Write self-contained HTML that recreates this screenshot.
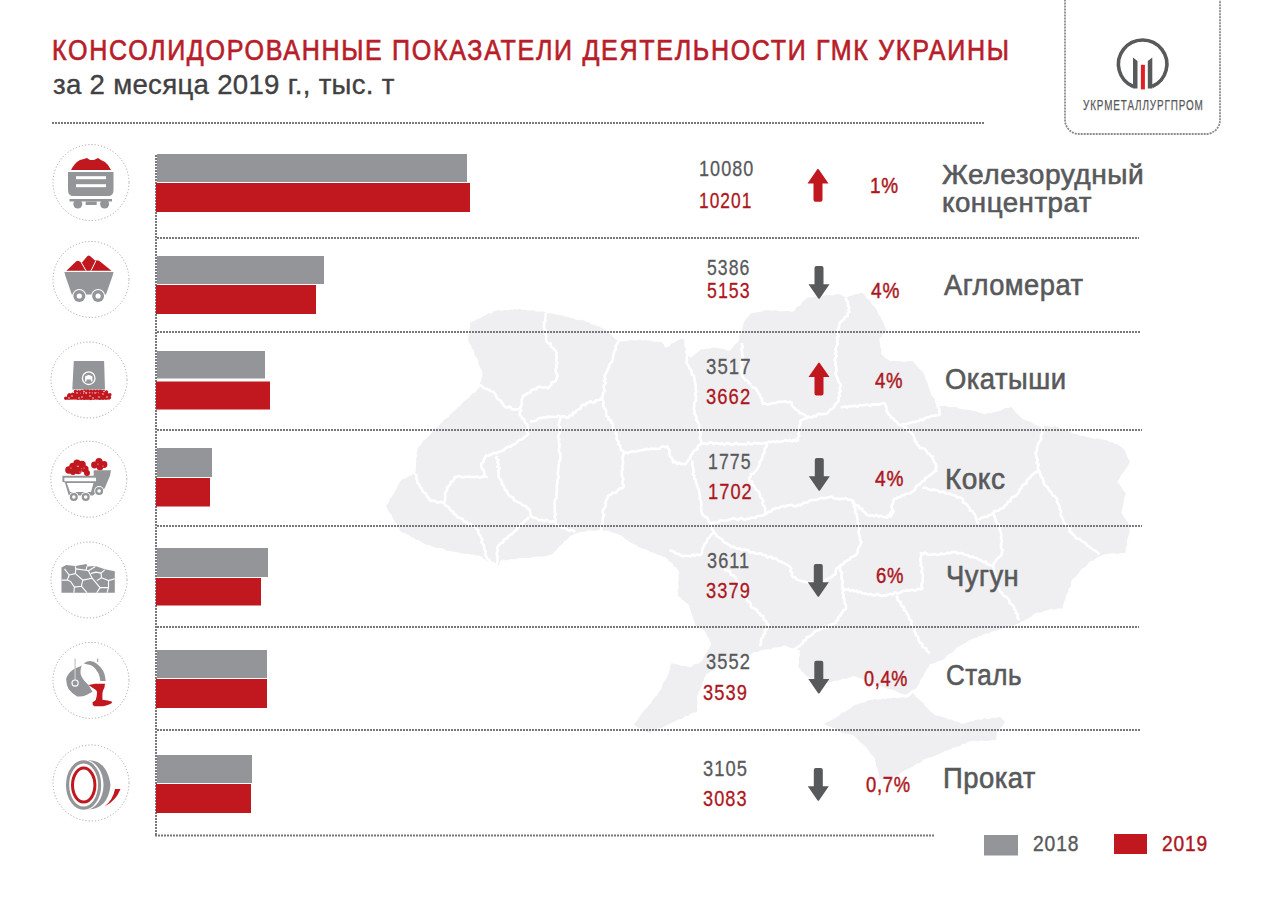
<!DOCTYPE html>
<html><head><meta charset="utf-8"><style>
html,body{margin:0;padding:0;background:#fff;}
body{width:1284px;height:906px;position:relative;overflow:hidden;font-family:"Liberation Sans",sans-serif;}
svg{position:absolute;left:0;top:0;}
.t{position:absolute;white-space:nowrap;transform-origin:0 0;}
</style></head><body>
<svg width="1284" height="906" viewBox="0 0 1284 906">
<polygon points="470.0,323.0 472.2,321.5 474.7,320.7 476.9,319.3 479.4,318.5 481.7,317.3 484.0,316.0 486.3,314.4 488.8,313.2 491.7,313.2 493.9,311.4 496.6,310.6 499.2,310.1 501.8,310.9 504.4,310.0 507.0,310.4 509.6,309.7 512.2,309.7 514.8,308.9 517.4,309.4 520.0,309.0 522.5,309.9 525.2,309.7 527.8,310.4 530.4,310.6 533.1,310.1 535.6,311.4 538.2,311.5 540.8,311.4 543.5,311.4 546.0,312.4 548.7,313.4 551.6,313.3 554.4,314.1 557.1,314.8 560.0,314.7 562.6,315.7 565.1,316.7 568.0,316.7 570.5,317.9 573.3,318.2 575.7,319.5 578.4,320.2 581.3,319.8 584.0,320.6 586.5,321.8 589.2,322.4 591.3,324.4 594.1,324.8 596.5,326.0 599.2,326.6 601.7,327.9 604.2,328.9 606.3,330.5 608.4,332.3 610.2,334.3 612.2,336.0 613.9,338.1 616.1,339.6 618.3,341.2 621.0,341.6 623.6,341.3 626.3,341.2 628.9,340.6 631.5,339.7 634.2,340.4 636.9,340.4 639.5,339.5 642.2,340.4 645.1,340.3 647.8,340.8 650.7,340.5 653.4,341.7 656.2,341.7 659.1,341.7 661.8,342.3 663.9,344.7 665.0,347.8 667.4,347.0 669.7,345.9 671.3,343.5 674.0,343.1 675.9,341.4 678.2,340.2 680.8,339.1 683.6,339.0 684.4,341.7 684.3,344.5 684.7,347.3 686.4,349.8 686.2,352.7 686.9,355.4 691.3,357.6 692.8,355.4 695.4,354.3 697.0,352.2 699.4,351.0 701.0,348.9 703.6,349.4 706.1,348.5 708.7,349.0 711.2,347.9 713.7,347.4 716.3,347.8 718.9,348.6 721.7,348.4 724.3,349.3 726.8,350.2 729.4,351.0 731.7,348.9 733.4,346.3 735.5,344.0 738.1,342.3 739.3,339.5 739.3,336.4 740.3,333.6 741.8,331.2 742.6,328.5 742.8,325.7 743.8,323.1 744.7,320.5 746.7,318.2 748.8,316.0 750.6,313.6 753.3,313.1 755.9,312.5 758.6,312.0 761.3,311.8 763.9,310.6 766.5,310.0 769.2,310.1 771.8,310.7 774.5,310.2 777.1,310.4 779.7,311.6 782.4,311.1 785.0,311.3 787.7,310.8 790.4,311.5 793.0,311.8 795.1,309.9 796.6,307.3 799.2,305.9 801.2,303.9 802.6,301.3 805.2,299.8 807.1,297.7 809.7,297.4 812.4,297.3 815.0,296.6 817.7,296.8 820.4,296.5 823.0,295.9 825.6,294.9 828.3,294.7 831.0,295.2 833.7,295.3 836.3,294.1 839.0,294.1 841.4,295.2 843.6,296.6 846.0,297.7 848.6,296.6 851.3,295.8 853.9,294.8 856.6,294.0 859.4,293.4 862.0,292.4 864.0,294.2 865.6,296.3 867.0,298.7 869.5,300.0 870.7,302.5 872.3,304.7 874.3,306.5 875.9,308.8 877.4,311.3 878.1,314.1 880.2,316.2 881.3,318.9 883.0,321.4 884.0,324.2 885.0,327.0 886.6,329.5 885.3,332.0 883.3,334.1 881.5,336.2 879.6,338.3 879.4,341.0 880.3,343.6 880.0,346.3 881.2,348.9 881.2,351.5 881.3,354.2 883.4,356.1 885.4,358.2 888.0,359.5 890.2,361.3 892.7,360.9 895.3,360.8 897.8,361.3 900.4,360.9 902.9,361.7 905.5,361.8 908.0,360.9 910.6,361.0 913.1,361.3 914.5,363.6 916.5,365.5 918.1,367.7 920.3,369.4 922.3,371.2 923.7,373.6 924.9,375.9 925.1,378.6 926.7,380.8 927.5,383.3 928.2,385.7 929.1,388.2 930.0,390.6 930.8,393.1 931.5,395.8 933.7,397.6 935.1,399.9 935.2,402.9 937.0,405.0 939.8,405.9 942.7,406.3 945.6,405.9 948.4,407.0 951.3,407.3 954.2,407.0 956.7,407.2 959.0,408.4 961.4,409.1 963.9,409.4 966.4,409.8 968.9,410.0 971.4,410.6 973.9,411.0 976.3,411.3 978.6,412.6 981.2,412.7 983.5,414.0 986.0,414.1 988.3,412.8 991.1,413.2 993.5,412.2 996.0,411.8 998.5,411.1 1001.0,410.4 1003.3,409.2 1005.6,407.8 1008.3,408.0 1010.7,407.0 1012.8,408.5 1014.4,410.4 1015.8,412.5 1017.7,414.2 1019.6,415.8 1021.3,417.7 1023.6,419.5 1026.3,420.4 1029.0,421.3 1031.6,422.4 1033.7,424.4 1036.5,425.2 1039.0,426.5 1041.5,426.9 1044.1,426.3 1046.6,426.1 1049.1,426.5 1051.6,426.9 1054.2,426.0 1056.7,426.5 1059.1,427.9 1061.5,429.0 1064.1,429.9 1066.6,430.9 1069.5,430.9 1071.7,432.7 1074.1,434.0 1077.0,433.9 1079.3,435.5 1081.9,435.7 1084.5,436.2 1087.0,437.0 1089.5,437.4 1092.1,438.0 1094.5,438.9 1097.3,438.3 1099.9,438.9 1102.4,439.5 1104.9,440.0 1107.5,440.4 1109.8,442.2 1112.5,442.0 1114.4,443.8 1117.2,444.2 1119.1,446.0 1121.4,447.1 1123.5,448.7 1125.1,451.2 1126.3,453.9 1127.3,456.8 1128.7,459.4 1130.1,462.0 1128.8,464.3 1127.5,466.6 1125.9,468.7 1124.7,471.1 1122.7,473.0 1121.0,475.0 1120.0,477.5 1118.9,479.9 1116.9,481.8 1119.0,483.7 1120.6,486.1 1122.1,488.5 1123.6,490.8 1125.7,492.8 1125.3,495.3 1124.2,497.7 1123.9,500.2 1123.6,502.8 1123.1,505.3 1122.4,507.7 1121.6,510.2 1121.3,512.7 1122.9,514.9 1124.0,517.3 1125.7,519.3 1127.5,521.4 1128.6,523.8 1130.1,526.0 1129.4,528.6 1129.8,531.4 1128.9,534.0 1128.4,536.6 1127.4,539.2 1126.9,541.8 1127.2,544.6 1126.0,547.1 1125.7,549.8 1125.7,552.5 1123.0,553.1 1120.2,553.1 1117.5,553.9 1114.6,553.2 1111.9,553.6 1109.1,553.6 1106.3,554.0 1103.6,554.7 1100.9,555.8 1098.2,557.0 1095.6,558.6 1093.3,560.5 1090.4,561.3 1088.2,563.2 1086.7,565.7 1084.5,567.5 1081.8,568.8 1080.0,571.0 1078.6,573.4 1076.8,575.4 1074.9,577.4 1072.7,579.0 1071.2,581.3 1071.2,584.2 1070.5,586.8 1068.4,588.9 1068.4,591.8 1066.5,593.9 1066.0,596.6 1065.0,599.5 1064.0,602.3 1063.1,605.2 1063.0,608.3 1060.2,608.5 1057.4,608.5 1054.7,609.8 1051.8,609.1 1049.0,609.8 1046.4,610.6 1043.7,611.1 1041.4,612.7 1038.6,612.6 1035.9,613.1 1033.5,614.5 1031.5,616.6 1028.9,617.8 1026.3,619.1 1024.0,620.7 1021.1,621.5 1018.7,623.4 1016.1,624.6 1013.2,625.4 1010.9,626.4 1008.3,626.6 1005.8,627.2 1003.6,628.3 1001.1,629.1 998.7,629.7 996.3,630.5 993.9,631.1 991.4,631.7 989.1,633.2 986.3,633.6 983.6,634.0 981.3,635.7 978.7,636.2 976.4,637.9 973.6,638.2 971.2,639.4 968.8,640.4 966.6,641.9 964.5,643.4 962.3,644.8 960.0,645.9 957.5,647.0 955.6,648.8 953.8,651.0 951.8,652.9 949.1,654.0 946.9,655.6 945.2,657.9 943.1,659.7 940.5,660.6 937.8,661.1 935.4,662.7 932.7,663.4 930.0,664.0 928.9,666.7 926.9,668.9 925.7,671.6 924.0,674.0 923.2,676.5 921.4,678.5 919.9,680.6 919.6,683.3 917.9,685.4 917.0,687.8 914.7,689.3 912.0,690.2 909.7,691.9 907.6,693.7 905.0,694.8 902.0,694.0 899.0,693.0 896.4,691.2 893.6,690.0 890.9,689.4 888.2,688.9 885.7,687.9 883.0,687.1 880.6,685.7 877.7,685.8 875.4,683.9 872.6,683.8 870.0,683.0 867.4,681.7 864.6,680.7 862.2,679.1 859.5,677.9 856.7,677.1 854.0,676.0 850.5,677.2 847.0,678.4 844.2,678.8 841.5,679.2 838.9,680.5 836.1,680.7 833.3,681.1 830.7,682.4 828.0,683.0 825.3,682.7 822.6,682.0 820.1,680.7 817.5,680.1 814.9,679.1 812.3,678.6 809.5,678.4 807.3,676.7 805.3,674.8 803.5,672.8 801.5,670.9 800.0,668.4 797.9,666.7 798.7,664.0 799.2,661.3 798.6,658.5 799.8,655.9 799.4,653.1 800.0,650.4 797.2,649.6 794.5,648.2 791.4,648.1 788.6,647.2 786.0,645.7 783.4,645.7 781.0,646.9 778.4,647.3 775.8,647.5 773.2,647.8 770.8,649.2 768.2,649.2 765.6,649.5 763.1,649.9 760.5,650.4 758.3,651.7 755.8,652.1 753.2,652.5 751.2,654.1 748.7,654.8 746.6,656.3 744.2,656.9 741.6,657.3 739.6,658.9 736.8,658.8 734.5,659.7 732.5,661.6 730.0,662.0 727.4,662.6 725.4,664.5 722.8,665.2 720.5,666.4 718.5,668.1 715.9,668.8 713.6,670.0 711.2,671.0 709.2,672.8 706.7,673.7 705.4,675.9 704.2,678.1 703.6,680.6 702.8,683.0 702.3,685.6 700.9,687.7 700.1,690.1 698.7,692.2 697.7,694.6 697.0,697.0 697.0,699.8 697.6,702.6 697.0,705.4 697.1,708.2 697.4,711.0 695.2,712.5 692.4,712.7 690.2,714.1 688.1,715.9 685.2,715.9 683.3,718.0 680.8,718.9 678.2,719.5 675.9,720.7 673.5,721.9 671.1,722.9 668.8,724.2 666.5,725.5 664.2,726.7 661.9,728.0 659.1,728.2 656.7,729.3 654.4,730.7 651.9,731.5 649.7,732.9 647.3,731.9 645.0,730.9 642.8,729.7 640.8,727.9 638.1,727.8 636.1,726.1 633.8,725.0 635.2,722.5 637.4,720.6 638.6,717.9 640.3,715.5 642.0,713.3 643.8,711.0 645.6,709.0 647.6,707.2 648.9,704.9 651.1,703.3 652.1,700.6 654.0,698.8 655.5,696.6 657.7,695.0 658.5,692.3 660.5,690.2 661.7,687.7 662.3,684.9 663.5,682.4 665.0,680.1 666.7,677.8 667.6,675.2 668.8,673.0 669.5,670.6 670.1,668.1 670.3,665.5 671.6,663.3 674.2,663.7 676.8,664.0 679.3,665.1 681.8,665.7 684.5,665.8 687.0,666.4 689.5,667.3 692.1,666.5 694.0,664.3 696.8,664.1 699.3,663.0 701.4,661.3 703.2,659.4 703.7,656.8 705.2,654.7 706.5,652.5 707.8,650.3 709.4,648.3 710.3,645.9 711.3,643.5 709.7,641.3 709.1,638.6 707.3,636.5 706.2,634.1 705.0,631.7 703.4,629.5 700.4,628.8 698.2,626.6 695.4,625.6 694.9,623.0 693.9,620.6 693.2,618.1 692.4,615.7 691.3,613.3 691.0,610.7 689.6,608.4 689.5,605.7 687.5,604.0 685.7,602.2 683.5,600.8 681.6,599.0 680.0,597.0 677.6,595.8 678.4,593.2 677.5,590.5 678.6,587.9 678.6,585.2 678.0,582.5 678.7,579.9 678.7,577.3 678.7,574.6 679.5,572.0 677.8,570.0 676.4,567.7 674.0,566.4 672.7,563.9 670.8,562.2 668.4,560.8 667.0,558.5 664.8,557.1 662.4,556.5 660.2,555.2 657.6,554.8 655.4,553.6 653.0,552.6 650.5,552.2 648.4,550.7 646.1,549.6 643.8,548.7 641.2,548.3 638.9,547.3 637.0,545.6 634.7,544.5 632.3,543.5 630.1,542.2 628.0,540.7 626.0,539.2 623.8,537.8 622.0,536.0 619.5,535.1 617.1,533.9 614.5,533.2 612.0,532.4 609.6,531.2 607.0,530.5 604.5,530.8 602.0,530.5 599.5,530.1 597.0,530.6 594.5,530.9 592.0,530.5 589.3,530.3 586.8,530.9 584.2,531.8 581.6,532.1 579.0,532.3 576.7,533.2 574.3,534.0 572.2,535.4 569.7,536.0 568.3,538.4 566.3,540.1 563.8,541.4 562.6,543.9 560.4,545.5 558.5,547.3 556.9,549.5 555.0,551.3 553.2,553.3 551.0,554.8 548.5,555.2 546.1,555.9 543.6,556.4 541.1,556.5 538.6,556.8 536.0,556.6 533.3,556.9 530.7,557.8 528.1,558.1 525.4,557.8 522.7,558.1 520.0,557.9 517.4,558.5 514.7,559.4 511.8,559.3 509.0,559.6 506.3,560.4 503.3,559.4 500.6,560.4 499.7,563.1 498.6,565.7 496.8,567.9 494.6,566.3 492.1,564.9 490.2,562.7 487.8,561.4 485.3,560.0 483.1,558.4 481.2,556.2 478.6,555.5 475.8,555.6 473.3,554.5 470.6,554.5 468.0,553.4 465.3,553.9 462.6,553.5 459.9,553.1 457.4,551.9 454.7,551.7 452.0,551.6 449.4,551.0 446.8,550.8 444.7,549.3 442.4,548.2 439.8,548.0 437.2,548.0 434.8,547.3 432.4,546.5 430.1,545.6 427.6,545.1 425.2,544.3 423.0,543.0 420.7,541.6 418.5,540.1 415.7,539.8 413.9,537.7 411.2,537.1 409.1,535.6 406.8,534.2 404.4,533.0 401.8,532.4 399.9,530.5 398.9,528.1 397.9,525.7 397.0,523.3 394.6,521.7 393.8,519.2 392.2,517.1 391.6,514.5 389.4,512.9 388.4,510.5 387.0,508.3 385.9,506.0 387.4,503.9 389.1,501.9 389.5,499.1 391.5,497.3 392.8,495.1 394.3,492.9 395.2,490.5 397.0,488.6 397.7,486.0 399.0,483.8 400.1,481.4 401.8,479.4 404.6,478.7 407.1,477.3 409.6,476.0 412.2,474.8 415.0,474.2 415.6,471.6 415.7,468.9 416.1,466.3 415.9,463.6 416.3,460.9 416.1,458.3 417.2,455.7 416.5,452.9 417.4,450.3 417.7,447.7 419.7,446.1 421.3,444.1 422.4,441.7 424.2,439.9 426.6,438.6 428.0,436.5 430.0,434.8 431.7,432.9 433.0,430.7 434.9,428.9 437.2,427.6 439.0,425.6 440.5,423.5 442.5,421.7 444.1,419.7 446.3,418.2 448.8,417.0 449.9,414.4 452.2,413.1 453.7,410.9 456.0,409.5 457.5,407.3 460.0,406.1 461.5,403.9 463.2,402.0 465.3,400.3 467.6,399.0 469.5,397.2 470.9,394.9 473.0,393.3 475.6,392.3 476.8,389.8 479.0,388.3 479.7,385.7 480.1,383.0 481.1,380.4 481.5,377.7 482.3,375.1 482.5,372.4 481.7,370.0 480.3,367.9 479.4,365.5 478.4,363.2 478.5,360.5 477.2,358.3 475.4,356.0 474.1,353.5 474.0,350.4 471.7,348.4 471.3,345.4 469.1,343.4 468.3,340.6 468.5,338.1 468.4,335.5 469.5,333.1 469.4,330.6 469.7,328.0 470.1,325.5" fill="#efeff1"/>
<polygon points="824.0,723.8 826.3,722.7 828.6,721.6 830.9,720.4 833.2,719.3 835.3,717.8 837.7,716.8 839.6,715.0 841.4,713.0 844.0,712.0 846.6,711.0 848.6,709.2 851.0,708.0 852.9,706.0 855.2,704.7 857.8,704.3 860.2,703.2 862.8,702.8 865.3,702.0 867.5,700.5 870.1,699.9 872.7,699.5 875.2,699.0 877.8,699.8 880.3,699.4 882.8,698.4 885.3,699.1 887.8,698.1 890.4,698.6 892.8,697.7 895.3,697.4 897.9,698.4 900.4,697.4 902.9,697.2 905.5,698.1 908.0,697.3 910.6,695.5 912.5,692.9 914.5,694.5 915.7,696.9 918.0,698.3 919.7,700.2 921.7,701.8 923.8,703.4 924.9,706.0 927.0,707.6 928.6,709.8 930.5,711.6 933.0,712.9 934.6,715.0 937.0,715.5 939.5,716.0 941.9,716.7 944.3,717.4 946.6,718.4 948.9,719.5 951.5,719.5 953.7,721.1 956.2,721.4 958.6,722.1 960.8,723.5 963.3,723.8 965.9,723.0 968.4,722.1 971.0,721.6 973.6,721.1 976.0,719.5 978.7,719.4 981.5,719.8 984.2,718.2 987.0,718.9 989.8,718.8 992.4,717.4 995.3,718.2 998.0,717.3 1000.8,717.2 1002.8,719.5 1005.0,721.6 1003.8,724.2 1002.1,726.4 1000.2,728.5 997.6,730.0 996.4,732.6 996.8,735.2 996.0,737.7 996.4,740.3 993.7,739.8 991.1,739.9 988.5,740.8 985.8,740.9 983.1,740.8 980.5,740.6 977.9,741.6 975.2,740.8 972.5,740.9 969.9,741.4 967.3,741.9 965.2,744.0 962.3,743.8 960.3,745.9 957.7,746.6 955.1,747.2 952.5,747.8 950.3,749.5 947.8,750.3 945.1,750.7 942.9,752.2 940.5,753.4 938.1,754.4 935.7,755.6 933.3,756.6 930.8,757.5 928.1,757.8 925.7,759.0 923.2,759.6 921.5,761.9 919.4,763.2 916.6,763.3 914.7,765.1 912.6,766.4 910.5,767.9 908.0,768.7 905.9,770.0 903.5,770.9 901.5,772.6 899.3,774.0 897.4,775.7 894.5,775.9 892.9,778.3 890.4,779.0 887.6,779.0 884.9,778.5 882.1,779.5 879.4,779.0 879.2,776.4 878.9,773.9 877.9,771.5 877.6,768.9 876.1,766.6 876.0,764.0 875.1,761.6 875.0,759.0 873.7,756.5 871.4,754.8 869.9,752.5 868.3,750.3 866.9,747.9 864.8,746.1 863.0,744.0 860.6,742.6 858.7,740.6 857.0,738.4 854.8,736.8 852.9,734.8 850.1,734.5 847.3,733.8 844.5,733.6 841.8,732.6 839.2,731.5 837.0,729.5 834.5,728.3 831.7,727.4 829.1,726.3 826.4,725.3" fill="#efeff1"/>
<polyline points="546.0,312.4 545.6,314.4 545.6,316.5 545.0,318.5 545.5,320.7 543.9,322.6 544.3,324.7 543.8,326.8 544.5,328.8 545.8,330.7 545.2,332.8 545.9,334.8 546.3,336.8 546.0,338.9 546.5,341.3 547.8,343.1 550.8,343.6 550.7,346.4 552.5,347.8 554.2,349.3 555.7,350.9 556.7,353.0 556.3,355.0 556.8,357.0 556.3,359.0 556.3,361.1 557.5,363.1 556.1,365.1 556.7,367.1 555.6,369.2 555.7,371.3 556.5,373.5 557.7,375.6 556.7,377.7 556.1,380.2 554.4,381.8 551.5,382.4 551.1,385.0 549.5,386.7 547.8,388.3 545.8,387.0 543.3,387.9 541.2,386.9 539.0,386.6 537.3,387.7 535.9,389.4 533.6,389.4 531.6,389.8 530.5,392.2 528.7,393.0 526.7,393.6 525.4,395.3 523.1,395.4 522.7,397.5 521.7,399.5 521.7,401.7 521.6,403.9 521.3,406.0 520.1,408.1 521.2,410.5 519.9,412.6 519.6,414.8 521.2,416.4 522.2,418.5 524.5,419.6 524.7,422.3 526.6,423.7 527.8,425.7 528.0,427.8 527.0,430.2 527.1,432.3 528.4,434.3 526.7,435.6 525.0,436.8 523.4,438.3 521.6,439.4 519.4,439.9 517.8,441.3 516.4,443.0 514.7,444.2 512.6,444.7 511.1,446.4 508.8,446.6 506.8,447.4 505.1,448.6 503.7,450.2 501.7,450.8 499.9,451.7 497.8,452.1 496.1,453.6 493.7,452.7 492.0,454.1 490.0,454.7 488.2,455.8 486.0,455.5 485.1,457.7 483.9,459.7 483.3,462.0 481.4,463.7 481.2,466.2 481.9,468.5 483.8,470.2 484.3,472.6 484.6,475.1 486.5,476.8 484.4,476.8 482.3,476.6 480.1,477.8 478.0,476.8 475.9,476.9 473.8,477.0 471.7,477.0 469.5,476.6 467.4,476.7 465.3,476.8 463.2,477.5 461.1,476.9 458.9,475.8 456.8,477.0 454.7,476.8 454.2,479.2 452.9,481.0 450.7,482.1 450.2,484.5 448.8,486.2 446.8,487.4 447.3,489.5 446.2,491.4 444.8,493.2 445.5,495.4 445.3,497.4 445.0,499.3 444.5,501.3 444.2,503.3" fill="none" stroke="#fff" stroke-width="2.6" stroke-linejoin="round"/>
<polyline points="479.0,384.8 481.0,385.7 482.9,386.9 484.6,388.7 487.0,388.8 489.0,389.9 490.9,391.1 493.0,391.9 494.9,393.2 495.7,395.4 496.8,397.4 497.8,399.3 500.4,400.2 501.4,402.2 503.1,403.7 503.7,406.0 505.6,407.2 507.6,407.4 510.0,406.5 511.5,409.0 513.5,409.5 515.7,409.3 517.8,409.5 519.7,407.9 521.3,406.0" fill="none" stroke="#fff" stroke-width="2.6" stroke-linejoin="round"/>
<polyline points="530.2,421.9 532.1,421.3 534.2,421.1 536.2,420.5 537.8,418.8 539.7,417.9 541.9,418.1 543.7,417.3 546.0,417.8 547.8,416.6 549.9,417.0 551.9,416.8 554.0,416.7 556.1,417.0 558.1,415.8 560.2,416.6 562.4,416.6 564.6,416.2 566.6,417.9 568.8,417.2 569.8,415.2 572.5,415.2 573.0,412.6 575.5,412.4 576.6,410.5 578.3,409.3 580.5,408.8 581.0,406.0 582.7,404.8 585.5,405.0 586.5,403.0 588.5,402.6 590.3,401.2 592.7,402.7 594.7,402.2 596.3,400.0 598.4,400.2 600.2,399.2 602.4,399.5" fill="none" stroke="#fff" stroke-width="2.6" stroke-linejoin="round"/>
<polyline points="560.2,416.6 560.5,418.8 559.4,420.8 559.3,422.9 558.7,425.0 560.0,427.3 559.7,429.4 559.7,431.5 559.4,433.6 558.1,435.6 558.4,437.8 559.4,439.8 558.6,441.8 559.5,443.8 559.4,445.8 559.3,447.9 558.5,450.0 559.2,451.9 560.6,453.9 560.2,455.9 560.6,457.9 560.0,460.0 559.0,462.0 558.9,464.2 558.7,466.3 558.4,468.4 558.4,470.5 557.7,472.6 557.8,474.7 558.8,476.9 558.0,479.0 557.0,481.0 557.6,483.2 556.8,485.2 556.9,487.3 557.0,489.4 556.9,491.5 556.5,493.6 556.6,495.7 556.8,497.8 555.0,499.7 554.8,501.8 554.2,503.8 555.0,506.0 554.6,508.0 554.9,510.0 554.5,512.0 555.8,514.0 554.6,516.0 555.1,518.0 555.7,520.0 555.0,522.0" fill="none" stroke="#fff" stroke-width="2.6" stroke-linejoin="round"/>
<polyline points="415.0,474.0 416.6,475.9 416.3,478.5 417.2,480.6 417.4,483.0 419.6,484.7 420.0,487.0 421.8,488.4 422.3,490.8 423.9,492.5 425.8,493.7 426.6,496.0 428.4,497.4 429.1,499.6 431.0,501.0 433.3,500.5 435.4,501.1 437.4,502.9 439.7,502.0 441.9,502.1 444.0,503.0 445.0,505.0 446.7,506.3 448.9,507.1 449.7,509.3 451.0,511.0 453.2,511.8 453.9,514.1 456.2,514.9 457.0,517.0 459.1,517.7 461.2,518.2 463.0,519.4 464.1,521.9 466.6,521.8 467.9,524.0 470.4,523.9 472.1,525.2 473.7,526.7 476.0,527.0 476.5,529.0 478.4,530.3 478.3,532.6 479.1,534.5 480.8,535.9 481.0,538.0 482.5,539.7 481.4,542.2 482.8,544.0 484.0,545.8 484.0,548.0 484.7,550.2 485.8,552.2 485.2,554.8 486.4,556.8 487.0,559.0 489.3,559.8 489.9,562.5 492.6,562.8 494.0,564.6 496.0,565.7 497.0,568.0" fill="none" stroke="#fff" stroke-width="2.6" stroke-linejoin="round"/>
<polyline points="497.0,456.0 496.3,458.2 498.6,460.0 497.3,462.3 498.8,464.3 497.3,466.6 499.7,468.4 498.1,470.7 498.8,472.8 498.7,474.9 498.6,477.1 500.0,479.0 501.4,480.6 502.0,482.5 502.1,484.7 503.8,486.1 504.6,488.0 505.0,490.0 507.0,491.1 507.6,493.7 509.1,495.3 510.8,496.7 513.3,497.4 513.8,500.1 516.0,501.0 517.8,502.2 520.0,502.8 521.6,504.3 523.5,505.4 525.8,505.9 527.1,508.0 529.0,509.0 530.0,510.9 530.4,513.1 530.4,515.3 532.0,517.0 533.9,517.9 536.1,517.9 537.8,519.4 539.7,520.3 542.0,519.8 543.7,521.3 546.3,519.9 548.2,520.7 550.0,522.0 552.5,521.3 555.0,522.0 556.4,524.4 558.7,525.7 561.0,527.0 562.8,528.2 565.2,528.0 567.0,529.1 568.7,530.7 571.3,529.7 573.3,530.5 575.0,532.0" fill="none" stroke="#fff" stroke-width="2.6" stroke-linejoin="round"/>
<polyline points="529.0,517.0 527.7,518.6 526.1,519.8 524.7,521.3 523.2,522.6 521.8,524.1 520.0,525.1 519.1,527.1 517.1,527.9 516.6,530.2 514.7,531.2 513.2,532.5 512.0,534.2 510.0,535.0 508.2,536.1 507.4,538.2 505.2,538.9 503.5,540.1 503.2,542.6 500.7,543.1 499.4,544.6 498.2,546.3 497.0,548.0 498.0,550.0 497.1,552.0 496.7,554.0 497.4,556.0 497.6,558.0 497.4,560.0 497.5,562.0 496.4,564.0 497.0,566.0" fill="none" stroke="#fff" stroke-width="2.6" stroke-linejoin="round"/>
<polyline points="618.3,341.2 617.6,343.2 616.3,345.0 615.4,346.8 616.1,349.3 614.4,351.0 613.9,353.0 613.3,355.0 613.0,357.1 612.9,359.4 612.2,361.5 610.6,363.2 609.0,364.8 609.1,367.3 607.7,369.0 607.2,371.2 606.0,373.0 605.0,374.9 604.6,376.9 605.5,379.0 604.0,380.9 605.8,383.1 604.0,384.9 603.6,386.9 604.2,389.0 604.6,391.2 603.0,393.1 603.0,395.3 601.8,397.2 602.4,399.5 603.5,401.4 603.3,403.6 603.1,405.8 604.2,407.7 605.4,409.5 606.4,411.4 606.0,413.7 606.4,416.0 608.4,417.2 608.6,419.6 611.3,420.3 611.3,422.9 613.0,424.3 612.9,426.7 613.3,429.0 615.8,430.7 615.6,433.2 616.9,435.2 616.5,437.7 616.9,439.9 618.6,441.5 618.2,444.1 620.3,445.5 620.4,447.9 621.1,450.0 623.2,451.4 623.6,453.6 623.3,455.7 622.2,457.8 622.9,460.1 623.1,462.3 623.1,464.4 621.8,466.5 622.9,468.8 621.8,470.8 621.8,473.0 621.9,475.0 622.2,477.0 623.4,478.9 622.5,481.1 622.2,483.2 623.7,485.0 623.6,487.1 622.0,488.4 619.6,488.3 618.2,489.9 616.8,491.5 615.3,493.0 612.7,492.5 611.4,494.3 609.5,495.1 607.7,496.0 607.6,498.2 606.2,500.0 605.4,502.0 605.7,504.3 605.6,506.5 604.1,508.3 602.8,510.5 602.7,512.7 604.4,515.2 603.0,517.4 602.5,519.6 602.9,522.0 602.4,524.2 601.8,526.4 601.1,528.7 602.0,531.0" fill="none" stroke="#fff" stroke-width="2.6" stroke-linejoin="round"/>
<polyline points="623.6,453.6 625.6,452.5 628.0,453.1 630.0,452.0 632.1,451.3 634.4,451.6 636.5,451.2 638.7,450.8 640.8,450.3 643.0,450.0 645.0,449.2 647.0,448.9 649.2,449.5 651.2,448.5 653.3,448.9 655.4,448.9 657.5,448.8 659.6,448.6 661.4,446.8 663.5,446.5 665.7,447.3 667.7,446.5 668.2,448.5 669.6,450.3 669.3,452.6 669.6,454.7 670.3,456.7 672.3,458.2 672.8,460.3 673.0,462.4 675.2,461.6 677.0,464.0 679.3,462.7 681.2,464.1 683.3,464.0 685.4,464.2 686.8,462.5 687.8,460.7 689.5,459.3 690.3,457.3 691.0,455.1 692.5,453.6 693.3,451.3 695.4,450.0 697.6,448.9 697.8,446.0 700.1,445.0 701.3,443.0 701.3,440.9 700.0,439.0 699.9,437.0 700.7,434.8 699.9,432.9 699.6,430.9 699.5,428.8 701.3,431.3 700.5,429.4 698.9,427.7 699.4,425.3 698.4,423.4 697.5,421.5 696.3,419.7 696.5,417.4 695.7,415.4 694.3,413.7 694.6,411.5 693.8,409.2 694.2,407.0 694.4,404.8 694.4,402.5 695.9,400.5 695.9,398.2 696.0,396.0 695.1,393.8 696.5,391.5 695.6,389.3 695.8,387.1 695.6,384.9 695.1,382.7 694.6,380.5 694.3,378.3 694.2,375.8 691.6,374.6 691.6,372.1 691.0,369.9 689.2,368.2 688.8,365.9 687.2,364.2 686.5,362.2 687.0,360.1 686.7,358.1 687.0,356.1 687.6,354.1 686.4,352.0 687.2,350.0" fill="none" stroke="#fff" stroke-width="2.6" stroke-linejoin="round"/>
<polyline points="692.5,460.6 692.3,462.8 692.3,465.1 693.1,467.2 693.3,469.5 693.8,471.6 692.7,474.0 694.4,476.0 694.2,478.3 695.6,480.0 696.0,482.1 696.7,484.1 697.2,486.1 698.0,488.1 699.0,490.0 699.2,492.1 699.5,494.2 700.1,496.4 699.8,498.6 700.8,500.8 701.3,503.0 701.3,505.2 700.8,507.5 701.3,509.7 701.3,511.9 702.4,514.0 703.7,515.9 705.8,517.1 707.8,518.4 708.2,521.1 710.1,522.5 710.3,524.8 711.8,526.7 711.9,529.0 713.4,530.8 713.7,533.1 711.5,534.3 710.2,536.2 708.8,538.0 707.0,539.5 706.7,542.3 704.8,543.7 704.0,545.8 702.9,547.8 702.1,549.9 702.2,552.3 701.3,554.3 699.2,555.3 696.8,554.4 694.7,555.8 692.4,554.7 690.3,556.4 688.0,555.7 685.8,555.8 683.6,556.0 681.3,556.0 679.6,554.5 677.6,553.7 675.4,553.2 673.8,551.4 671.8,550.7 669.5,550.7" fill="none" stroke="#fff" stroke-width="2.6" stroke-linejoin="round"/>
<polyline points="710.1,522.5 712.4,523.0 714.4,522.2 716.6,522.0 718.7,522.0 720.6,520.2 722.9,520.7 725.1,520.9 727.2,520.5 729.2,519.5 731.3,519.0 733.5,518.3 735.7,518.8 737.9,520.1 740.1,518.1 742.4,518.6 744.6,520.0 746.8,518.9 749.0,519.0 750.8,517.8 752.8,517.4 755.2,518.1 756.8,516.3 758.8,515.8 760.9,515.7 763.0,515.4 764.7,514.2 766.7,513.6 768.3,511.8 770.8,511.7 772.3,509.7 774.4,508.8 776.5,508.0 779.0,508.0 780.8,506.6 783.0,506.0 785.2,506.7 787.4,505.4 789.5,505.2 791.7,504.8 794.0,506.2 796.3,506.4 798.4,504.8 800.6,505.3 802.4,503.9 804.3,502.5 806.9,502.9 808.7,501.4 810.6,500.1 813.0,500.0 815.2,499.9 817.3,499.5 819.4,498.8 821.4,497.7 823.7,498.4 825.8,497.9 827.8,497.2 830.0,497.0 832.1,496.5 833.9,498.5 835.9,498.6 837.9,498.5 839.8,499.4 841.9,498.8 844.0,498.6 846.0,498.3 847.9,499.7 849.9,499.8 851.9,500.0 853.6,501.5 854.3,503.9 856.1,505.2 858.8,505.7 859.1,508.4 862.1,508.6 862.6,511.2 864.7,512.2 866.0,514.1 868.0,515.0 870.1,515.8 872.3,515.2 874.4,516.1 876.8,514.9 878.7,516.6 881.0,515.8 883.0,516.9 885.1,517.0 887.2,517.7 888.0,515.6 890.4,515.2 890.8,512.8 892.5,511.6 894.3,510.6" fill="none" stroke="#fff" stroke-width="2.6" stroke-linejoin="round"/>
<polyline points="713.7,533.1 715.8,533.8 716.6,536.0 718.3,537.2 720.1,538.2 722.1,539.0 722.9,541.3 724.5,542.6 726.5,543.4 728.1,544.6 730.1,545.5 731.3,547.2 733.6,546.6 735.5,547.9 737.5,548.8 739.8,548.2 741.6,550.2 743.9,549.5 746.0,549.9 748.2,550.0 749.8,552.5 752.0,552.4 754.2,552.4 755.9,553.8 758.0,553.8 760.2,553.2 762.0,554.4 763.8,555.3 765.9,555.1 767.3,557.4 769.6,556.8 771.7,556.9 773.2,558.9 775.5,558.0 777.2,559.4 778.5,561.2 780.8,561.3 782.4,562.5 784.4,563.2 786.0,564.4 788.1,564.9 789.5,566.5 791.2,568.3 790.2,571.0 792.2,572.7 791.8,575.2 793.1,577.1 795.3,577.3 796.8,579.6 798.8,580.2 801.0,580.7 803.0,581.4 805.1,581.8 807.2,582.4 809.2,583.3 811.6,582.3 813.6,583.4 815.6,584.5 817.8,584.2 819.5,582.6 822.3,583.0 824.3,581.9 825.8,580.0 827.8,578.9 829.9,578.0 832.0,577.1 833.1,575.2 835.4,574.2 835.6,571.6 836.2,569.4 837.6,567.7 839.9,566.7 840.8,564.7 843.2,564.4 844.3,562.3 846.1,561.2 847.9,560.1 849.9,559.3 851.1,557.1 853.3,556.7 855.0,555.4 856.7,554.1 857.8,552.2 857.6,549.9 858.4,547.9 859.6,546.1 860.7,544.2 861.4,541.9 859.9,539.8 860.2,537.5 859.4,535.4 858.7,533.2 858.4,531.0 859.8,528.6 858.9,526.5 859.0,524.3 857.6,522.5 857.7,520.3 857.1,518.2 857.1,516.1 856.6,514.0 854.9,512.3 855.6,509.9 855.0,507.9 853.7,506.1 853.8,503.9 852.4,502.0 851.9,500.0" fill="none" stroke="#fff" stroke-width="2.6" stroke-linejoin="round"/>
<polyline points="724.2,568.3 725.3,570.5 728.2,570.5 730.1,571.7 730.6,574.8 733.0,575.3 734.7,576.7 736.0,578.4 736.1,580.8 737.8,582.2 737.9,584.6 740.3,585.6 740.0,588.3 742.4,589.3 743.0,591.4 743.5,593.5 745.4,594.8 746.1,597.1 746.7,599.5 748.2,601.4 750.5,602.8 750.7,605.4 751.7,607.4 753.6,608.2 755.6,609.1 757.3,610.2 757.9,612.6 759.8,613.5 760.8,615.4 763.0,616.0 763.5,618.1 764.3,620.0 766.1,621.4 766.9,623.3 768.3,624.8 767.2,626.8 767.0,629.1 764.7,630.6 765.1,633.2 763.3,634.9 763.0,637.2 761.2,639.0 760.9,641.5 761.1,644.1 759.5,646.0" fill="none" stroke="#fff" stroke-width="2.6" stroke-linejoin="round"/>
<polyline points="840.8,564.7 840.0,566.8 840.1,568.8 840.3,570.8 842.2,572.7 841.2,574.8 841.7,576.8 841.6,578.9 842.6,580.8 842.6,582.9 842.1,584.9 842.7,586.9 842.4,589.0 843.4,590.9 842.5,593.0 843.9,594.8 843.1,597.1 844.2,599.0 844.5,601.1 844.6,603.2 845.9,605.0 846.1,607.1 845.7,609.4 843.2,610.3 842.4,612.3 841.1,614.0 840.0,615.8 838.2,617.1 838.1,619.6 836.2,620.9 835.5,623.0 833.7,624.1 831.6,624.5 829.6,625.1 827.9,626.6 826.2,627.9 824.0,627.9 821.8,628.2 820.0,629.3 818.2,630.4 816.1,630.8 814.3,631.9 813.0,633.9 811.2,635.4 809.2,636.6 806.8,637.2 805.9,639.7 803.7,640.7 802.8,642.8 801.4,644.3 800.0,645.8 798.1,646.9 796.2,647.9 794.8,649.5" fill="none" stroke="#fff" stroke-width="2.6" stroke-linejoin="round"/>
<polyline points="842.5,588.3 844.4,589.2 846.3,589.9 848.5,588.9 850.1,591.1 852.4,589.9 854.2,591.3 856.4,590.5 858.0,592.4 860.3,591.5 862.0,593.2 863.9,593.6 866.0,593.6 868.2,594.4 870.4,593.9 872.6,595.1 874.7,595.6 877.1,593.9 879.3,595.0 881.4,596.2 883.7,595.4 886.0,595.5 888.1,594.4 890.2,593.7 892.7,594.6 894.5,592.3 897.0,593.3 899.2,593.1 901.3,591.9 903.3,590.8 905.5,590.8 907.6,590.4 909.8,590.6 911.9,589.8 914.2,590.6 916.3,590.3 918.2,588.6 920.5,589.5 922.5,588.3 921.5,586.3 921.4,584.2 922.6,582.1 922.8,580.0 922.7,577.9 923.0,575.8 922.6,573.7 921.2,571.7 922.1,569.6 922.4,567.5 920.5,565.5 921.3,563.4 920.4,561.3 920.3,559.3 921.0,557.2 921.3,555.1 920.8,553.0 922.7,554.3 924.9,552.6 926.8,553.7 928.6,555.0 930.7,554.7 932.7,554.4 934.8,554.0 936.7,554.8 938.9,554.7 941.0,553.6 943.3,554.0 945.5,553.7 947.6,552.8 949.9,553.3 952.0,552.1 954.2,551.9 956.2,552.3 958.0,553.6 960.4,552.9 962.4,553.3 964.2,554.6 966.3,554.8 968.3,555.5 969.9,557.0 972.3,556.6 974.2,557.6 976.3,557.7 977.9,559.3 979.9,559.8 981.8,560.9 983.4,562.3 985.9,561.6 987.0,564.3 989.2,564.6 991.0,565.5 993.2,565.7" fill="none" stroke="#fff" stroke-width="2.6" stroke-linejoin="round"/>
<polyline points="896.0,595.4 897.3,597.0 897.3,599.4 898.5,601.1 900.8,602.2 900.6,604.7 902.1,606.2 904.3,607.3 903.6,610.1 906.0,611.1 906.6,613.1 908.0,614.9 908.8,617.1 909.5,619.2 911.4,620.8 911.3,623.4 912.0,625.5 913.7,627.2 914.4,629.2 914.6,631.5 915.7,633.3 916.1,635.5 918.1,637.0 918.5,639.2 919.0,641.3 920.4,642.8 922.3,643.8 922.2,646.6 924.1,647.7 926.3,648.5 926.8,650.7 928.4,652.0 929.6,653.7" fill="none" stroke="#fff" stroke-width="2.6" stroke-linejoin="round"/>
<polyline points="846.0,297.7 846.0,299.8 847.6,301.6 848.1,303.6 847.8,305.8 849.4,307.5 848.4,309.9 849.5,311.8 847.7,313.2 847.7,315.9 845.2,316.8 844.2,318.8 842.7,320.4 840.8,321.8 839.5,323.5 839.0,325.9 839.0,327.9 837.8,329.8 837.7,331.8 837.1,333.7 838.9,336.0 836.7,337.7 838.0,339.9 837.2,341.8 837.8,343.9 836.5,345.8 835.8,347.7 835.3,349.6 836.4,351.8 835.1,353.6 836.7,355.8 835.4,357.7 834.4,360.0 835.9,362.2 835.3,364.5 836.2,366.8 836.4,369.1 836.5,371.3 835.4,373.6 836.3,375.8 837.4,377.9 838.0,380.3 838.9,382.4 840.7,384.2 840.6,386.5 839.5,388.7 840.6,391.1 838.9,393.2 840.0,395.6 838.3,397.7 839.0,400.1 837.9,401.8 836.4,403.3 835.0,404.7 834.4,406.9 833.0,408.5 830.9,409.3 829.3,410.6 828.3,412.5 826.4,414.0 824.1,413.8 822.0,414.4 819.7,414.0 817.4,414.1 815.8,416.6 813.4,416.1 811.6,417.6 809.1,416.7 807.1,417.8 806.0,415.6 803.9,414.6 801.9,413.4 799.4,412.9 798.3,410.7 796.2,409.9 795.0,408.2 793.2,407.0 791.9,405.4 791.7,402.7 789.5,401.9 787.5,402.4 785.4,401.3 783.3,401.7 781.3,401.8 779.2,401.7 777.2,402.3 775.3,403.2 773.2,403.1 771.2,403.4 769.2,404.3 767.1,404.4 765.0,403.4 763.0,403.7 762.2,401.6 762.2,399.2 760.6,397.4 760.1,395.2 758.5,393.4 757.7,391.3 756.4,389.7 755.3,387.9 752.7,387.6 751.2,386.1 750.5,384.0 748.8,382.7 747.6,381.0 745.6,380.1 744.3,378.5 742.8,377.1 742.0,375.0 742.2,373.0 741.0,371.0 740.9,369.0 742.4,367.0 741.8,365.0 741.0,363.0 743.0,361.0 742.0,359.0 743.0,357.0 742.3,355.0 742.1,353.0 741.8,351.0 741.1,349.0 743.0,347.0 741.9,345.0 742.0,343.0" fill="none" stroke="#fff" stroke-width="2.6" stroke-linejoin="round"/>
<polyline points="701.3,443.0 703.3,443.4 705.4,443.6 707.4,444.2 709.5,442.6 711.6,442.4 713.6,444.1 715.7,443.1 717.7,443.3 719.7,444.3 721.8,443.0 723.8,444.7 725.9,443.8 728.0,443.0 730.0,444.0 732.1,444.9 734.1,444.0 736.1,442.9 738.2,444.5 740.2,444.3 742.2,444.2 744.3,444.0 746.3,444.6 748.3,442.4 750.4,444.5 752.4,443.7 754.5,442.8 756.5,443.5 758.5,442.9 760.6,443.5 762.6,443.6 764.7,443.1 766.7,443.0 768.7,441.8 770.9,442.0 773.0,441.5 775.3,442.1 777.3,441.2 779.5,442.0 781.5,441.6 783.6,440.9 785.7,440.0 787.8,441.1 789.9,440.0 792.1,441.5 794.1,439.5 796.3,441.1 798.3,440.0 797.4,437.8 799.3,435.9 798.5,433.7 799.2,431.7 799.1,429.6 799.0,427.5 799.5,425.4 800.5,423.4 800.0,421.3 802.2,419.8 804.6,418.7 807.1,417.8" fill="none" stroke="#fff" stroke-width="2.6" stroke-linejoin="round"/>
<polyline points="766.7,443.0 766.9,445.2 766.2,447.1 764.6,448.7 764.8,450.9 764.2,452.9 762.9,454.6 762.4,456.5 762.1,458.6 761.1,460.4 759.5,462.0 759.6,464.2 758.9,466.5 757.5,468.1 756.5,470.1 754.8,471.6 753.7,473.5 750.8,474.1 750.7,476.8 749.0,478.3 749.3,480.7 752.1,481.6 751.9,484.4 753.9,485.7 754.8,487.8 756.0,489.6 758.0,491.0 759.3,492.8 760.0,495.0 760.4,497.2 762.3,498.9 763.2,500.8 762.4,503.5 763.4,505.4 765.0,507.2 765.2,509.5 765.1,511.8 766.7,513.6" fill="none" stroke="#fff" stroke-width="2.6" stroke-linejoin="round"/>
<polyline points="840.7,407.2 842.8,407.1 844.9,406.5 847.0,407.5 849.0,406.1 851.2,406.4 853.2,405.9 855.3,405.9 857.5,406.9 859.5,404.9 861.6,405.4 863.7,405.4 865.8,404.6 867.9,404.7 870.1,406.0 872.1,404.3 874.3,404.8 876.4,404.2 878.6,404.7 880.7,403.9 882.7,403.1 884.9,403.7 885.7,405.8 886.5,407.9 886.4,410.3 887.6,412.2 888.4,414.3 890.4,415.3 891.2,417.6 893.3,418.5 894.4,420.4 896.4,421.4 897.6,423.2 899.0,424.9 901.1,425.1 902.9,424.1 905.0,424.2 907.0,423.9 908.9,423.1 910.9,422.8 912.7,421.9 914.8,422.0 916.7,421.3 918.8,421.3 920.3,419.3 922.8,420.5 924.4,418.7 926.2,417.6 928.1,417.1 930.2,416.9 932.0,415.7 934.1,415.8 936.1,415.3 938.2,415.2 940.0,414.3 939.2,412.0 939.4,409.4 938.1,407.2 937.0,405.0" fill="none" stroke="#fff" stroke-width="2.6" stroke-linejoin="round"/>
<polyline points="901.2,424.7 902.9,426.2 905.0,427.3 907.2,428.4 908.0,430.9 910.4,431.6 911.8,433.6 913.3,435.1 914.0,437.0 914.6,439.0 914.9,441.2 916.9,442.3 916.9,444.7 918.9,445.9 920.0,448.1 922.8,448.1 924.8,449.1 926.4,450.6 927.3,453.1 929.3,454.0 930.7,455.9 933.0,456.5 932.5,458.8 933.7,460.6 934.4,462.6 935.9,464.4 936.5,466.4 935.3,468.8 936.5,470.7 934.5,471.7 932.6,472.9 931.1,474.6 929.2,475.7 927.5,477.1 925.4,478.0 924.7,480.7 922.4,481.3 920.9,482.8 919.7,484.6 917.3,485.3 915.8,486.8 915.2,489.3 914.0,491.0 911.8,491.9 910.0,493.2 908.0,493.8 905.7,493.7 904.0,495.2 901.8,495.3 900.2,497.0 898.0,497.3 896.3,498.8 894.1,498.9 893.4,500.8 893.3,502.8 892.2,504.6 891.6,506.6 892.1,508.7 892.7,510.9 890.4,512.5 890.0,514.4 890.6,516.6 891.8,514.6 893.0,512.6 894.3,510.6" fill="none" stroke="#fff" stroke-width="2.6" stroke-linejoin="round"/>
<polyline points="922.4,488.3 924.8,487.6 926.9,488.3 928.9,489.3 930.9,490.3 933.3,489.5 935.5,489.9 937.6,490.5 939.5,492.1 941.8,491.9 944.0,491.7 945.6,493.6 947.6,494.0 949.9,493.5 951.6,494.9 953.6,495.3 955.6,495.8 957.2,497.7 959.5,497.2 961.6,498.2 963.1,499.7 963.0,502.6 965.3,503.4 967.0,504.7 968.2,506.5 969.6,508.1 970.0,510.6 972.7,511.1 973.6,513.1 975.2,514.9 975.6,517.4 976.7,519.5 976.9,522.0 978.9,523.7" fill="none" stroke="#fff" stroke-width="2.6" stroke-linejoin="round"/>
<polyline points="978.9,520.1 980.5,518.3 982.7,517.5 984.8,516.7 987.4,516.9 989.0,515.1 991.3,514.5 993.1,513.1 994.4,511.2 996.6,510.9 998.8,510.4 1000.2,508.7 1002.4,508.4 1004.1,507.1 1005.3,505.1 1007.2,504.2 1007.8,501.9 1010.4,501.4 1010.8,498.9 1012.0,497.1 1014.6,496.6 1016.2,495.2 1017.6,493.6 1019.2,492.1 1019.4,489.5 1021.3,488.3 1022.1,485.9 1023.6,484.2 1026.6,483.7 1026.6,480.7 1028.1,479.0 1030.2,477.7 1031.3,475.5 1033.1,474.1 1034.8,472.7 1037.0,471.8 1039.0,470.7 1037.9,468.9 1037.8,466.8 1038.8,464.6 1036.7,463.0 1037.7,460.7 1037.2,458.8 1036.4,456.9 1036.1,454.9 1035.5,453.0 1036.8,451.3 1037.1,449.2 1037.0,447.0 1037.9,445.1 1038.5,443.1 1039.5,441.3 1041.4,439.8 1040.9,437.4 1040.9,435.2 1042.5,433.6 1042.3,431.3 1042.8,428.9 1041.9,426.7 1041.8,424.4" fill="none" stroke="#fff" stroke-width="2.6" stroke-linejoin="round"/>
<polyline points="1039.0,470.7 1039.8,472.7 1040.5,474.7 1041.1,476.8 1043.0,478.2 1043.2,480.5 1043.6,482.7 1044.5,484.6 1046.2,486.2 1048.1,487.4 1048.7,489.7 1050.2,491.4 1051.7,492.9 1052.4,495.2 1054.5,496.2 1056.0,497.8 1057.3,499.5 1056.8,501.7 1058.0,503.5 1059.2,505.3 1059.7,507.2 1059.8,509.3 1061.2,511.0 1060.5,513.2 1060.7,515.3 1061.7,517.1 1062.9,518.8 1063.3,521.0 1064.2,522.9 1066.0,524.2 1066.9,526.2 1069.0,527.3 1070.2,529.0 1069.6,531.8 1072.0,532.8 1072.7,534.8 1074.7,535.5 1075.4,537.9 1077.2,538.8 1079.6,538.9 1081.0,540.5 1082.7,541.5 1084.3,542.8 1086.2,543.5 1087.1,545.6 1089.0,546.5 1090.4,548.0 1092.3,549.2 1094.3,550.1 1096.2,551.3 1098.1,552.5 1099.2,554.7" fill="none" stroke="#fff" stroke-width="2.6" stroke-linejoin="round"/>
<polyline points="993.1,513.1 994.0,515.1 994.9,517.2 995.4,519.5 996.3,521.5 997.3,523.5 999.4,525.1 1000.1,527.2 999.3,529.4 1000.6,531.4 1001.0,533.5 1001.6,535.6 1000.9,537.7 1001.8,539.8 1001.7,541.9 1001.1,544.1 1000.9,546.2 1001.1,548.3 1002.7,550.3 1002.0,552.5 1001.5,554.9 999.9,556.6 998.1,558.1 996.4,559.6 995.2,561.6 993.7,563.3 993.2,565.7 993.4,567.7 993.7,569.8 994.9,571.6 995.2,573.7 995.9,575.6 995.6,577.8 995.8,579.8 996.3,581.8 997.1,583.7 997.5,585.8 997.7,587.8 999.5,589.0 1000.0,591.5 1001.8,592.7 1002.9,594.6 1004.2,596.3 1006.5,597.1 1008.1,598.4 1009.3,600.3 1009.6,602.8 1011.2,604.2 1013.1,605.4 1014.1,607.1 1014.2,609.3 1015.9,610.7 1015.7,613.0 1018.0,614.2 1017.6,616.6 1017.9,618.6 1019.7,620.0" fill="none" stroke="#fff" stroke-width="2.6" stroke-linejoin="round"/>
<line x1="52" y1="123" x2="985" y2="123" stroke="#77787b" stroke-width="2" stroke-dasharray="2 1"/>
<line x1="157" y1="238" x2="1139" y2="238" stroke="#77787b" stroke-width="2" stroke-dasharray="2 1"/>
<line x1="157" y1="332" x2="1141" y2="332" stroke="#77787b" stroke-width="2" stroke-dasharray="2 1"/>
<line x1="157" y1="430" x2="1142" y2="430" stroke="#77787b" stroke-width="2" stroke-dasharray="2 1"/>
<line x1="157" y1="526" x2="1142" y2="526" stroke="#77787b" stroke-width="2" stroke-dasharray="2 1"/>
<line x1="157" y1="627" x2="1139" y2="627" stroke="#77787b" stroke-width="2" stroke-dasharray="2 1"/>
<line x1="157" y1="730" x2="1140" y2="730" stroke="#77787b" stroke-width="2" stroke-dasharray="2 1"/>
<line x1="155" y1="835.5" x2="935" y2="835.5" stroke="#77787b" stroke-width="2" stroke-dasharray="2 1"/>
<line x1="156" y1="155" x2="156" y2="836" stroke="#77787b" stroke-width="2" stroke-dasharray="2 1"/>
<rect x="157" y="154" width="310" height="28" fill="#939598"/>
<rect x="156" y="183" width="314" height="29" fill="#c1171f"/>
<rect x="157" y="256" width="167" height="28" fill="#939598"/>
<rect x="156" y="285" width="160" height="29" fill="#c1171f"/>
<rect x="157" y="351" width="108" height="27.5" fill="#939598"/>
<rect x="156" y="381.5" width="114" height="28.0" fill="#c1171f"/>
<rect x="157" y="448" width="55" height="29" fill="#939598"/>
<rect x="156" y="478" width="54" height="28.5" fill="#c1171f"/>
<rect x="157" y="548" width="111" height="29" fill="#939598"/>
<rect x="156" y="578" width="105" height="27.5" fill="#c1171f"/>
<rect x="157" y="650" width="110" height="28" fill="#939598"/>
<rect x="156" y="679" width="111" height="29" fill="#c1171f"/>
<rect x="157" y="755" width="95" height="28" fill="#939598"/>
<rect x="156" y="784" width="95" height="29" fill="#c1171f"/>
<path d="M813.5,199.7 q0,2 2,2 h5 q2,0 2,-2 v-16.3 h6 l-9.8,-14.1 q-0.7,-0.8 -1.4,0 l-9.8,14.1 h6 z" fill="#c1171f"/>
<path d="M814.5,268 q0,-2 2,-2 h5 q2,0 2,2 v16.3 h6 l-9.8,14.1 q-0.7,0.8 -1.4,0 l-9.8,-14.1 h6 z" fill="#58595b"/>
<path d="M814.5,393.4 q0,2 2,2 h5 q2,0 2,-2 v-16.3 h6 l-9.8,-14.1 q-0.7,-0.8 -1.4,0 l-9.8,14.1 h6 z" fill="#c1171f"/>
<path d="M814.8,460 q0,-2 2,-2 h5 q2,0 2,2 v16.3 h6 l-9.8,14.1 q-0.7,0.8 -1.4,0 l-9.8,-14.1 h6 z" fill="#58595b"/>
<path d="M813.8,566 q0,-2 2,-2 h5 q2,0 2,2 v16.3 h6 l-9.8,14.1 q-0.7,0.8 -1.4,0 l-9.8,-14.1 h6 z" fill="#58595b"/>
<path d="M814.3,662.8 q0,-2 2,-2 h5 q2,0 2,2 v16.3 h6 l-9.8,14.1 q-0.7,0.8 -1.4,0 l-9.8,-14.1 h6 z" fill="#58595b"/>
<path d="M813.8,770 q0,-2 2,-2 h5 q2,0 2,2 v16.3 h6 l-9.8,14.1 q-0.7,0.8 -1.4,0 l-9.8,-14.1 h6 z" fill="#58595b"/>
<circle cx="91" cy="182.6" r="38" fill="none" stroke="#a7a9ac" stroke-width="1" stroke-dasharray="1.2 2"/>
<circle cx="91" cy="279.5" r="38" fill="none" stroke="#a7a9ac" stroke-width="1" stroke-dasharray="1.2 2"/>
<circle cx="89" cy="380" r="38" fill="none" stroke="#a7a9ac" stroke-width="1" stroke-dasharray="1.2 2"/>
<circle cx="88.8" cy="479.2" r="38" fill="none" stroke="#a7a9ac" stroke-width="1" stroke-dasharray="1.2 2"/>
<circle cx="89" cy="580" r="38" fill="none" stroke="#a7a9ac" stroke-width="1" stroke-dasharray="1.2 2"/>
<circle cx="91" cy="680.4" r="38" fill="none" stroke="#a7a9ac" stroke-width="1" stroke-dasharray="1.2 2"/>
<circle cx="91" cy="783" r="38" fill="none" stroke="#a7a9ac" stroke-width="1" stroke-dasharray="1.2 2"/>
<rect x="984" y="835" width="34" height="20.5" fill="#939598"/>
<rect x="1114" y="834" width="33" height="20" fill="#c1171f"/>
<rect x="1065" y="-20" width="155" height="154" rx="14" fill="none" stroke="#8a8b8e" stroke-width="1.8" stroke-dasharray="2 1"/>
<path d="M71,170 C73,166 76,162 80,160 L84,159 L87,158 L90,160 L94,160 L98,158 L101,160 L105,162 L108,165 L111,170 Z" fill="#c1171f"/>
<path d="M68,172 H113.5 V190 Q113.5,196 108,196 H73.5 Q68,196 68,190 Z" fill="#939598"/>
<rect x="76" y="176.2" width="30" height="3" fill="#fff"/><rect x="76" y="184.2" width="30" height="3" fill="#fff"/>
<rect x="69.5" y="199" width="42.5" height="2.5" fill="#939598"/>
<circle cx="77.8" cy="204" r="4.5" fill="#939598"/><circle cx="104.6" cy="204" r="4.5" fill="#939598"/><rect x="85.7" y="201.5" width="11" height="3.5" fill="#939598"/>
<path d="M66.4,270.7 L76,261.5 Q77.3,260.3 78.6,261 L82,262.5 L87.5,256 Q88.7,254.8 90,256 L95,260.5 Q97,259.8 99.1,260.8 L111.5,270.7 Z" fill="#c1171f"/>
<path d="M81,262 L86,270.7 M96,260.5 L91,270.7" stroke="#fff" stroke-width="1"/>
<path d="M64.4,272 H113.5 L112.5,276 L106,294.6 H71.8 L65.4,276 Z" fill="#939598"/>
<circle cx="79.3" cy="296" r="7" fill="#fff"/><circle cx="98.1" cy="296" r="7" fill="#fff"/>
<circle cx="79.3" cy="296" r="6" fill="#939598"/><circle cx="98.1" cy="296" r="6" fill="#939598"/>
<circle cx="79.3" cy="296" r="2.6" fill="#fff"/><circle cx="98.1" cy="296" r="2.6" fill="#fff"/>
<path d="M73.8,361 H104.1 L105,389.6 H72.3 Z" fill="#939598"/>
<circle cx="88.7" cy="378.2" r="6.3" fill="none" stroke="#fff" stroke-width="1.3"/>
<path d="M85,376.5 q3.7,-3 7.4,0 v5 h-1.5 v-2 h-4.4 v2 h-1.5 z" fill="#fff"/>
<circle cx="75.5" cy="391.5" r="1.76" fill="#c1171f"/>
<circle cx="78.6" cy="391.7" r="1.73" fill="#c1171f"/>
<circle cx="81.7" cy="391.6" r="1.85" fill="#c1171f"/>
<circle cx="84.8" cy="391.2" r="1.90" fill="#c1171f"/>
<circle cx="87.9" cy="391.2" r="1.87" fill="#c1171f"/>
<circle cx="91.0" cy="391.3" r="1.74" fill="#c1171f"/>
<circle cx="94.1" cy="391.5" r="2.03" fill="#c1171f"/>
<circle cx="97.2" cy="391.3" r="1.79" fill="#c1171f"/>
<circle cx="100.3" cy="391.7" r="2.08" fill="#c1171f"/>
<circle cx="103.4" cy="391.7" r="1.86" fill="#c1171f"/>
<circle cx="106.5" cy="392.0" r="1.72" fill="#c1171f"/>
<circle cx="69.5" cy="394.9" r="1.82" fill="#c1171f"/>
<circle cx="72.6" cy="394.3" r="1.75" fill="#c1171f"/>
<circle cx="75.7" cy="394.4" r="2.03" fill="#c1171f"/>
<circle cx="78.8" cy="394.3" r="1.93" fill="#c1171f"/>
<circle cx="81.9" cy="394.7" r="1.85" fill="#c1171f"/>
<circle cx="85.0" cy="394.6" r="1.73" fill="#c1171f"/>
<circle cx="88.1" cy="394.2" r="1.78" fill="#c1171f"/>
<circle cx="91.2" cy="394.7" r="1.87" fill="#c1171f"/>
<circle cx="94.3" cy="394.5" r="1.93" fill="#c1171f"/>
<circle cx="97.4" cy="394.6" r="1.82" fill="#c1171f"/>
<circle cx="100.5" cy="394.8" r="1.98" fill="#c1171f"/>
<circle cx="103.6" cy="394.4" r="1.93" fill="#c1171f"/>
<circle cx="106.7" cy="394.6" r="2.05" fill="#c1171f"/>
<circle cx="109.8" cy="394.8" r="1.82" fill="#c1171f"/>
<circle cx="65.8" cy="398.2" r="1.75" fill="#c1171f"/>
<circle cx="68.9" cy="397.7" r="2.00" fill="#c1171f"/>
<circle cx="72.0" cy="397.5" r="1.90" fill="#c1171f"/>
<circle cx="75.1" cy="397.4" r="1.97" fill="#c1171f"/>
<circle cx="78.2" cy="398.0" r="1.93" fill="#c1171f"/>
<circle cx="81.3" cy="398.1" r="1.83" fill="#c1171f"/>
<circle cx="84.4" cy="398.0" r="1.94" fill="#c1171f"/>
<circle cx="87.5" cy="397.9" r="1.88" fill="#c1171f"/>
<circle cx="90.6" cy="398.1" r="2.08" fill="#c1171f"/>
<circle cx="93.7" cy="397.8" r="1.97" fill="#c1171f"/>
<circle cx="96.8" cy="397.4" r="1.98" fill="#c1171f"/>
<circle cx="99.9" cy="397.9" r="2.10" fill="#c1171f"/>
<circle cx="103.0" cy="398.1" r="1.81" fill="#c1171f"/>
<circle cx="106.1" cy="397.7" r="1.97" fill="#c1171f"/>
<circle cx="109.2" cy="397.4" r="1.88" fill="#c1171f"/>
<rect x="67" y="394.5" width="43" height="5" fill="#c1171f"/>
<circle cx="72" cy="396" r="0.65" fill="#fff"/>
<circle cx="77" cy="393" r="0.65" fill="#fff"/>
<circle cx="82" cy="397" r="0.65" fill="#fff"/>
<circle cx="86" cy="393" r="0.65" fill="#fff"/>
<circle cx="90" cy="396" r="0.65" fill="#fff"/>
<circle cx="95" cy="393" r="0.65" fill="#fff"/>
<circle cx="99" cy="397" r="0.65" fill="#fff"/>
<circle cx="103" cy="394" r="0.65" fill="#fff"/>
<circle cx="107" cy="397" r="0.65" fill="#fff"/>
<circle cx="79" cy="398" r="0.65" fill="#fff"/>
<circle cx="93" cy="398" r="0.65" fill="#fff"/>
<circle cx="69" cy="398" r="0.65" fill="#fff"/>
<circle cx="104" cy="391.5" r="0.65" fill="#fff"/>
<circle cx="84" cy="391.5" r="0.65" fill="#fff"/>
<path d="M62.4,475.7 H93.7 V470.2 H111 L110,475.7 L104.6,488.6 L99,491 L92.7,495.6 H68.8 L64.9,482.6 L62.4,481.7 Z" fill="#939598"/>
<path d="M64.4,477.7 H96 V481.2 H64.4 Z" fill="#fff"/>
<path d="M66.8,483 H93.5 L91,492 H70 Z" fill="#fff"/>
<circle cx="73.8" cy="497" r="4.9" fill="#fff"/><circle cx="73.8" cy="497" r="4.0" fill="#939598"/><circle cx="73.8" cy="497" r="1.8" fill="#fff"/>
<circle cx="85.7" cy="497" r="4.9" fill="#fff"/><circle cx="85.7" cy="497" r="4.0" fill="#939598"/><circle cx="85.7" cy="497" r="1.8" fill="#fff"/>
<circle cx="99.1" cy="491" r="4.9" fill="#fff"/><circle cx="99.1" cy="491" r="4.0" fill="#939598"/><circle cx="99.1" cy="491" r="1.8" fill="#fff"/>
<circle cx="69" cy="470" r="3.8" fill="#c1171f"/>
<circle cx="73" cy="466.5" r="3.8" fill="#c1171f"/>
<circle cx="77" cy="463" r="3.6" fill="#c1171f"/>
<circle cx="82" cy="464.5" r="3.8" fill="#c1171f"/>
<circle cx="85" cy="469" r="3.6" fill="#c1171f"/>
<circle cx="78" cy="470.5" r="3.8" fill="#c1171f"/>
<circle cx="87" cy="473" r="3.0" fill="#c1171f"/>
<circle cx="73" cy="472" r="3" fill="#c1171f"/>
<circle cx="94.5" cy="465" r="3.4" fill="#c1171f"/>
<circle cx="99" cy="461.5" r="3.6" fill="#c1171f"/>
<circle cx="104" cy="464.5" r="3.4" fill="#c1171f"/>
<circle cx="100" cy="467" r="3.3" fill="#c1171f"/>
<circle cx="71" cy="468" r="0.6" fill="#f7c9cb"/>
<circle cx="78" cy="466" r="0.6" fill="#f7c9cb"/>
<circle cx="84" cy="468" r="0.6" fill="#f7c9cb"/>
<circle cx="98" cy="464" r="0.6" fill="#f7c9cb"/>
<circle cx="103" cy="466" r="0.6" fill="#f7c9cb"/>
<circle cx="80" cy="472" r="0.6" fill="#f7c9cb"/>
<path d="M61.5,592.7 V567.5 L66.2,565.1 L75.3,566.1 L86.5,564 L87.4,566.5 L95.4,566.1 L104.7,569.3 L114.8,571.2 V592.7 Z" fill="#939598"/>
<polyline points="64.5,568.9 69.2,575 75.3,573.6 75.8,568.9 86,570.3 88.4,570.7" fill="none" stroke="#fff" stroke-width="1.1" stroke-linejoin="round"/>
<polyline points="75.8,568.9 75.3,566.1" fill="none" stroke="#fff" stroke-width="1.1" stroke-linejoin="round"/>
<polyline points="86,570.3 87,566.1" fill="none" stroke="#fff" stroke-width="1.1" stroke-linejoin="round"/>
<polyline points="69.2,575 67.3,580.1 61.7,580.1" fill="none" stroke="#fff" stroke-width="1.1" stroke-linejoin="round"/>
<polyline points="67.3,580.1 70.6,581.5 74.4,587.1 73.9,592.7" fill="none" stroke="#fff" stroke-width="1.1" stroke-linejoin="round"/>
<polyline points="74.4,587.1 81.4,586.2 82.8,580.1 75.8,574" fill="none" stroke="#fff" stroke-width="1.1" stroke-linejoin="round"/>
<polyline points="81.4,586.2 87,592.7" fill="none" stroke="#fff" stroke-width="1.1" stroke-linejoin="round"/>
<polyline points="82.8,580.1 92.1,578.2 88.4,570.7 95.4,566.5" fill="none" stroke="#fff" stroke-width="1.1" stroke-linejoin="round"/>
<polyline points="92.1,578.2 100,587.6 96.8,592.7" fill="none" stroke="#fff" stroke-width="1.1" stroke-linejoin="round"/>
<polyline points="100,587.6 108.5,587.6 107.1,592.7" fill="none" stroke="#fff" stroke-width="1.1" stroke-linejoin="round"/>
<polyline points="108.5,587.6 108.5,580.6 114.8,578.7" fill="none" stroke="#fff" stroke-width="1.1" stroke-linejoin="round"/>
<polyline points="108.5,580.6 101.5,577.8 96.8,580.6" fill="none" stroke="#fff" stroke-width="1.1" stroke-linejoin="round"/>
<polyline points="101.5,577.8 101,573.1 104.7,569.8" fill="none" stroke="#fff" stroke-width="1.1" stroke-linejoin="round"/>
<polyline points="101,573.1 95.9,572.1 90.7,573.6" fill="none" stroke="#fff" stroke-width="1.1" stroke-linejoin="round"/>
<path d="M80.5,666.2 Q72,669 68.6,673.9 Q65.5,678 66.3,680.5 Q66.5,686 68.6,689.1 Q72,694 77.2,696.4 Q82,697 86.5,695 L92.5,691.7 L88.5,685.1 Q84,681 81.9,677.2 Q80,673 80.5,671.2 Q80.5,668 81.9,665.2 Z" fill="#939598"/>
<path d="M83.8,663.6 Q86,661 89.8,660.9 Q94,661 97.1,663.9 Q101,667 103,670.5 Q105.5,675 105.7,681.1 H100.4 Q100,677 98.4,673.2 Q96,669 93.1,666.6 Q90,664.5 87.8,664.6 Z" fill="#939598"/>
<path d="M75.1,658.6 V680" stroke="#c7c8ca" stroke-width="1.3"/><circle cx="75.1" cy="683.1" r="3.1" fill="none" stroke="#fff" stroke-width="1.2"/>
<path d="M97.7,658.6 V661.9" stroke="#939598" stroke-width="1"/>
<path d="M88.5,685.1 L95.1,683.8 H105 L104.4,687.8 Q103,690 102.4,693.1 V699.7 Q108,700 112.3,701.7 Q112,703.5 109.7,704.3 Q106,706 103,706.3 H94.4 Q92,705 92.5,702.3 Q95,701 95.8,699.7 Q97,696 97.1,691.7 Q96,690 94.4,689.1 Z" fill="#c1171f"/>
<path d="M88,760.3 Q107,760 110.5,785 Q108,809 88,809.5 Z" fill="#939598"/>
<ellipse cx="84" cy="785" rx="19.5" ry="25.5" fill="#fff"/>
<ellipse cx="83.6" cy="785" rx="16" ry="23.2" fill="none" stroke="#939598" stroke-width="3.2"/>
<ellipse cx="83.7" cy="785.1" rx="11.2" ry="17" fill="none" stroke="#c1171f" stroke-width="3"/>
<path d="M104.6,806.5 Q113,800 115,789.1 H120.5 Q116,801 104.6,806.5 Z" fill="#c1171f"/>
<path d="M1133.2,86.5 A24.2,24.2 0 1 1 1152.1,86.5" fill="none" stroke="#58595b" stroke-width="3.6"/>
<path d="M1133,57.4 L1137.5,60.9 V88.5 H1133 Z M1152.3,57.4 L1147.8,60.9 V88.5 H1152.3 Z" fill="#58595b"/>
<rect x="1140.9" y="64.8" width="4" height="24.6" fill="#e31e24"/>
</svg>
<div class="t" style="left:51.51px;top:35.35px;font-size:29.66px;line-height:29.66px;font-weight:400;color:#b81d2a;-webkit-text-stroke:0.7px #b81d2a;letter-spacing:2.0px;transform:scaleX(0.8445)">КОНСОЛИДОРОВАННЫЕ ПОКАЗАТЕЛИ ДЕЯТЕЛЬНОСТИ ГМК УКРАИНЫ</div>
<div class="t" style="left:52.51px;top:71.25px;font-size:27.94px;line-height:27.94px;font-weight:400;color:#414042;-webkit-text-stroke:0.35px #414042;letter-spacing:0.3px;transform:scaleX(0.9881)">за 2 месяца 2019 г., тыс. т</div>
<div class="t" style="left:699.36px;top:157.55px;font-size:21.84px;line-height:21.84px;font-weight:400;color:#58595b;-webkit-text-stroke:0.3px #58595b;letter-spacing:1.3px;transform:scaleX(0.8251)">10080</div>
<div class="t" style="left:699.40px;top:189.65px;font-size:21.76px;line-height:21.76px;font-weight:400;color:#ad1620;-webkit-text-stroke:0.3px #ad1620;letter-spacing:1.3px;transform:scaleX(0.7968)">10201</div>
<div class="t" style="left:707.20px;top:257.35px;font-size:21.84px;line-height:21.84px;font-weight:400;color:#58595b;-webkit-text-stroke:0.3px #58595b;letter-spacing:1.3px;transform:scaleX(0.8059)">5386</div>
<div class="t" style="left:707.19px;top:280.35px;font-size:21.84px;line-height:21.84px;font-weight:400;color:#ad1620;-webkit-text-stroke:0.3px #ad1620;letter-spacing:1.3px;transform:scaleX(0.8118)">5153</div>
<div class="t" style="left:706.26px;top:355.55px;font-size:21.76px;line-height:21.76px;font-weight:400;color:#58595b;-webkit-text-stroke:0.3px #58595b;letter-spacing:1.3px;transform:scaleX(0.8535)">3517</div>
<div class="t" style="left:706.27px;top:385.75px;font-size:21.84px;line-height:21.84px;font-weight:400;color:#ad1620;-webkit-text-stroke:0.3px #ad1620;letter-spacing:1.3px;transform:scaleX(0.8414)">3662</div>
<div class="t" style="left:708.41px;top:450.55px;font-size:22.42px;line-height:22.42px;font-weight:400;color:#58595b;-webkit-text-stroke:0.3px #58595b;letter-spacing:1.3px;transform:scaleX(0.7903)">1775</div>
<div class="t" style="left:708.38px;top:480.75px;font-size:22.42px;line-height:22.42px;font-weight:400;color:#ad1620;-webkit-text-stroke:0.3px #ad1620;letter-spacing:1.3px;transform:scaleX(0.8137)">1702</div>
<div class="t" style="left:706.98px;top:549.55px;font-size:21.76px;line-height:21.76px;font-weight:400;color:#58595b;-webkit-text-stroke:0.3px #58595b;letter-spacing:1.3px;transform:scaleX(0.8306)">3611</div>
<div class="t" style="left:706.27px;top:579.75px;font-size:21.84px;line-height:21.84px;font-weight:400;color:#ad1620;-webkit-text-stroke:0.3px #ad1620;letter-spacing:1.3px;transform:scaleX(0.8355)">3379</div>
<div class="t" style="left:706.28px;top:650.55px;font-size:21.99px;line-height:21.99px;font-weight:400;color:#58595b;-webkit-text-stroke:0.3px #58595b;letter-spacing:1.3px;transform:scaleX(0.8314)">3552</div>
<div class="t" style="left:703.29px;top:681.75px;font-size:22.42px;line-height:22.42px;font-weight:400;color:#ad1620;-webkit-text-stroke:0.3px #ad1620;letter-spacing:1.3px;transform:scaleX(0.8154)">3539</div>
<div class="t" style="left:703.28px;top:757.55px;font-size:21.99px;line-height:21.99px;font-weight:400;color:#58595b;-webkit-text-stroke:0.3px #58595b;letter-spacing:1.3px;transform:scaleX(0.8332)">3105</div>
<div class="t" style="left:703.28px;top:787.75px;font-size:21.84px;line-height:21.84px;font-weight:400;color:#ad1620;-webkit-text-stroke:0.3px #ad1620;letter-spacing:1.3px;transform:scaleX(0.8314)">3083</div>
<div class="t" style="left:870.39px;top:175.30px;font-size:21.74px;line-height:21.74px;font-weight:400;color:#ad1620;-webkit-text-stroke:0.45px #ad1620;letter-spacing:0.9px;transform:scaleX(0.8727)">1%</div>
<div class="t" style="left:871.18px;top:280.30px;font-size:21.74px;line-height:21.74px;font-weight:400;color:#ad1620;-webkit-text-stroke:0.45px #ad1620;letter-spacing:0.9px;transform:scaleX(0.8762)">4%</div>
<div class="t" style="left:874.99px;top:370.30px;font-size:21.74px;line-height:21.74px;font-weight:400;color:#ad1620;-webkit-text-stroke:0.45px #ad1620;letter-spacing:0.9px;transform:scaleX(0.8540)">4%</div>
<div class="t" style="left:874.98px;top:468.30px;font-size:21.58px;line-height:21.58px;font-weight:400;color:#ad1620;-webkit-text-stroke:0.45px #ad1620;letter-spacing:0.9px;transform:scaleX(0.8832)">4%</div>
<div class="t" style="left:875.75px;top:565.20px;font-size:21.74px;line-height:21.74px;font-weight:400;color:#ad1620;-webkit-text-stroke:0.45px #ad1620;letter-spacing:0.9px;transform:scaleX(0.8520)">6%</div>
<div class="t" style="left:864.08px;top:669.30px;font-size:21.51px;line-height:21.51px;font-weight:400;color:#ad1620;-webkit-text-stroke:0.45px #ad1620;letter-spacing:0.9px;transform:scaleX(0.8394)">0,4%</div>
<div class="t" style="left:866.06px;top:774.30px;font-size:21.67px;line-height:21.67px;font-weight:400;color:#ad1620;-webkit-text-stroke:0.45px #ad1620;letter-spacing:0.9px;transform:scaleX(0.8493)">0,7%</div>
<div class="t" style="left:942.20px;top:160.05px;font-size:28.35px;line-height:28.35px;font-weight:400;color:#58595b;-webkit-text-stroke:0.6px #58595b;letter-spacing:0.5px;transform:scaleX(0.9918)">Железорудный</div>
<div class="t" style="left:942.43px;top:188.25px;font-size:28.35px;line-height:28.35px;font-weight:400;color:#58595b;-webkit-text-stroke:0.6px #58595b;letter-spacing:0.5px;transform:scaleX(0.9779)">концентрат</div>
<div class="t" style="left:943.93px;top:269.65px;font-size:29.58px;line-height:29.58px;font-weight:400;color:#58595b;-webkit-text-stroke:0.6px #58595b;letter-spacing:0.5px;transform:scaleX(0.9236)">Агломерат</div>
<div class="t" style="left:944.66px;top:365.45px;font-size:29.07px;line-height:29.07px;font-weight:400;color:#58595b;-webkit-text-stroke:0.6px #58595b;letter-spacing:0.5px;transform:scaleX(0.9434)">Окатыши</div>
<div class="t" style="left:944.77px;top:464.55px;font-size:29.07px;line-height:29.07px;font-weight:400;color:#58595b;-webkit-text-stroke:0.6px #58595b;letter-spacing:0.5px;transform:scaleX(0.9640)">Кокс</div>
<div class="t" style="left:946.01px;top:561.55px;font-size:29.07px;line-height:29.07px;font-weight:400;color:#58595b;-webkit-text-stroke:0.6px #58595b;letter-spacing:0.5px;transform:scaleX(0.9429)">Чугун</div>
<div class="t" style="left:946.37px;top:661.45px;font-size:28.85px;line-height:28.85px;font-weight:400;color:#58595b;-webkit-text-stroke:0.6px #58595b;letter-spacing:0.5px;transform:scaleX(0.9031)">Сталь</div>
<div class="t" style="left:942.91px;top:763.55px;font-size:29.07px;line-height:29.07px;font-weight:400;color:#58595b;-webkit-text-stroke:0.6px #58595b;letter-spacing:0.5px;transform:scaleX(0.9441)">Прокат</div>
<div class="t" style="left:1033.22px;top:834.00px;font-size:21.30px;line-height:21.30px;font-weight:400;color:#58595b;-webkit-text-stroke:0.4px #58595b;letter-spacing:1.0px;transform:scaleX(0.9046)">2018</div>
<div class="t" style="left:1161.73px;top:834.00px;font-size:21.30px;line-height:21.30px;font-weight:400;color:#ad1620;-webkit-text-stroke:0.4px #ad1620;letter-spacing:1.0px;transform:scaleX(0.8985)">2019</div>
<div class="t" style="left:1083.23px;top:98.30px;font-size:14.49px;line-height:14.49px;font-weight:400;color:#58595b;-webkit-text-stroke:0.25px #58595b;letter-spacing:1.3px;transform:scaleX(0.6824)">УКРМЕТАЛЛУРГПРОМ</div>
</body></html>
